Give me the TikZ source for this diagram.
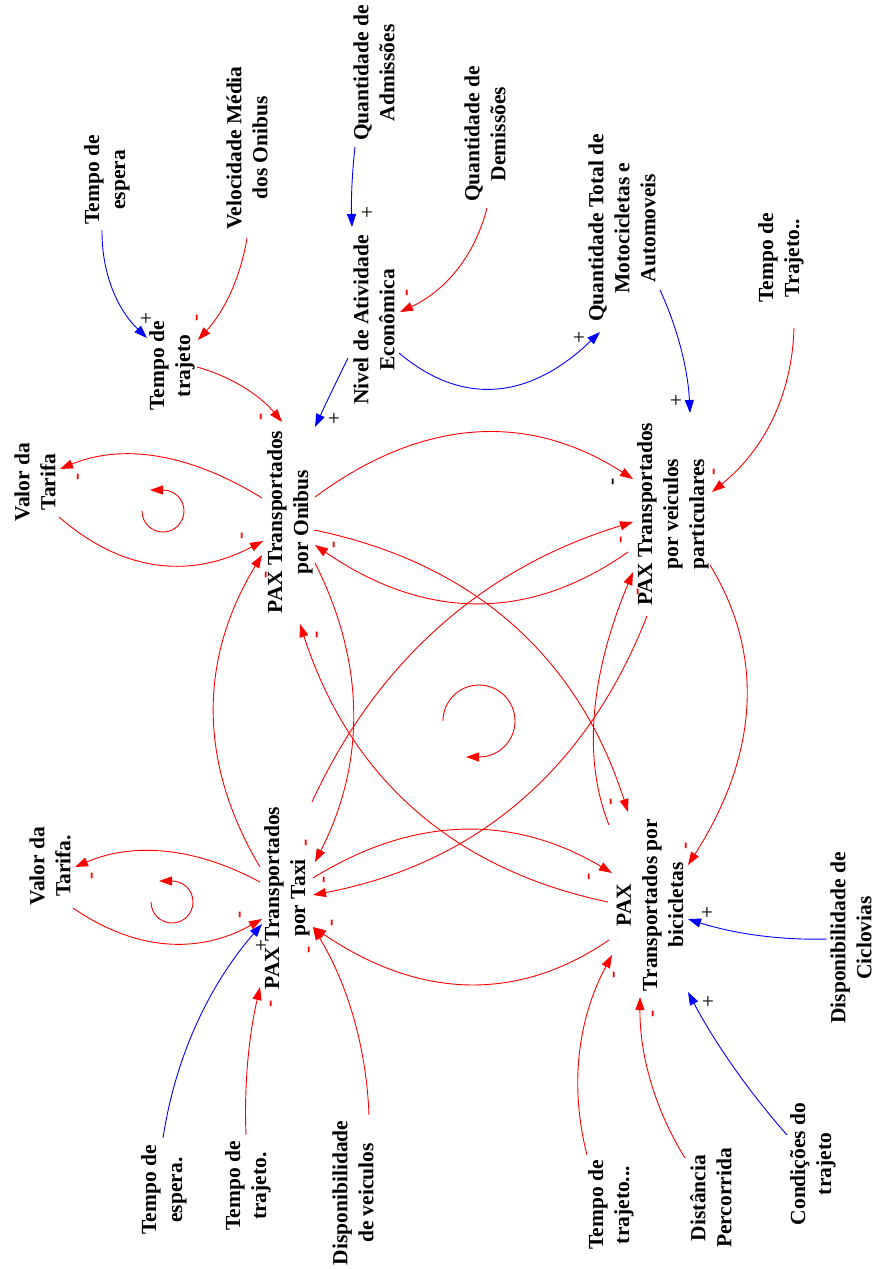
\documentclass[tikz,border=0pt]{standalone}
\usepackage{fontspec}
\setmainfont{Liberation Serif}
\usetikzlibrary{arrows.meta,calc}
\newcommand\cld[6]{\draw[#1] ($(#2)+(#3)$) .. controls ($1.3333*(#4)-0.3333*(#5)-0.3333*(#6)$) and ($1.3333*(#4)-0.3333*(#2)-0.3333*(#3)$) .. ($(#5)+(#6)$);}
\tikzset{
  var/.style={rotate=90, align=center, inner sep=1pt, font=\bfseries\fontsize{21.5}{26}\selectfont},
  neg/.style={draw=red, line width=0.9pt, -{Triangle[length=13pt,width=9pt]}},
  posl/.style={draw=blue, line width=0.9pt, -{Triangle[length=13pt,width=9pt]}},
  msign/.style={rotate=90, text=red, inner sep=0pt, font=\bfseries\fontsize{21.5}{26}\selectfont},
  ksign/.style={rotate=90, text=black, inner sep=0pt, font=\bfseries\fontsize{21.5}{26}\selectfont},
  psign/.style={rotate=90, text=black, inner sep=0pt, font=\fontsize{21.5}{26}\selectfont},
  loopmark/.style={draw=red, line width=0.9pt, -{Triangle[length=13pt,width=9pt]}}
}
\begin{document}
\begin{tikzpicture}[x=1pt,y=-1pt]
\useasboundingbox (0,0) rectangle (877,1269);
% variables
\node[var] (te)  at (107,180)  {Tempo de\\espera};
\node[var] (vm)  at (247,148)  {Velocidade Média\\dos Onibus};
\node[var] (qa)  at (374,73)   {Quantidade de\\Admissões};
\node[var] (tt)  at (172,366)  {Tempo de\\trajeto};
\node[var] (na)  at (374,320)  {Nivel de Atividade\\Econômica};
\node[var] (qd)  at (485,134)  {Quantidade de\\Demissões};
\node[var] (qt)  at (622,228)  {Quantidade Total de\\Motocicletas e\\Automoveis};
\node[var] (tj)  at (781,258)  {Tempo de\\Trajeto..};
\node[var] (vt1) at (35,482)   {Valor da\\Tarifa};
\node[var] (on)  at (290,522)  {PAX Transportados\\por Onibus};
\node[var] (vp)  at (673,514)  {PAX Transportados\\por veiculos\\particulares};
\node[var] (vt2) at (50,866)   {Valor da\\Tarifa.};
\node[var] (tx)  at (287,898)  {PAX Transportados\\por Taxi};
\node[var] (bi)  at (650,905)  {PAX\\Transportados por\\bicicletas};
\node[var] (dc)  at (851,938)  {Disponibilidade de\\Ciclovias};
\node[var] (te2) at (164,1190) {Tempo de\\espera.};
\node[var] (tt2) at (248,1186) {Tempo de\\trajeto.};
\node[var] (dv)  at (353,1193) {Disponibilidade\\de veiculos};
\node[var] (tt3) at (611,1205) {Tempo de\\trajeto...};
\node[var] (dp)  at (711,1198) {Distância\\Percorrida};
\node[var] (ct)  at (813,1164) {Condições do\\trajeto};
% outer links
\cld{posl}{te}{-5,50}{113,289}{tt}{-25,-28}
\cld{neg}{vm}{0,90}{230,293}{tt}{26,-26}
\cld{posl}{qa}{-19,74}{352,187}{na}{-22,-93}
\cld{neg}{qd}{2,74}{456,270}{na}{26,-8}
\cld{neg}{tt}{25,1}{244,388}{on}{-8,-100}
\cld{posl}{na}{-26,38}{331,393}{on}{25,-95}
\cld{posl}{na}{25,33}{497,388}{qt}{-22,104}
\cld{posl}{qt}{38,62}{681,350}{vp}{17,-101}
\cld{neg}{tj}{13,70}{772,419}{vp}{39,-22}
\cld{neg}{on}{-28,-24}{157,457}{vt1}{25,-13}
\cld{neg}{vt1}{24,35}{157,564}{on}{-27,19}
\cld{neg}{tx}{-27,-16}{165,852}{vt2}{25,1}
\cld{neg}{vt2}{23,42}{167,943}{tx}{-25,21}
\cld{posl}{te2}{-1,-52}{197,1024}{tx}{-25,26}
\cld{neg}{tt2}{-2,-51}{248,1061}{tx}{-27,89}
\cld{neg}{dv}{16,-78}{353,1017}{tx}{26,29}
\cld{neg}{tt3}{-24,-50}{580,1053}{bi}{-38,50}
\cld{neg}{dp}{-26,-40}{651,1081}{bi}{-10,92}
\cld{posl}{ct}{-26,-29}{733,1066}{bi}{38,87}
\cld{posl}{dc}{-24,1}{757,935}{bi}{38,14}
% central links
\cld{neg}{on}{25,-25}{475,433}{vp}{-40,-35}
\cld{neg}{vp}{-45,38}{475,603}{on}{25,23}
\cld{neg}{on}{24,8}{512,625}{bi}{-22,-93}
\cld{neg}{on}{25,41}{353,713}{tx}{28,-36}
\cld{neg}{tx}{-27,-31}{214,711}{on}{-28,33}
\cld{neg}{bi}{-42,-3}{414,808}{on}{10,102}
\cld{neg}{tx}{25,-96}{441,626}{vp}{-40,8}
\cld{neg}{vp}{-26,102}{518,802}{tx}{26,-3}
\cld{neg}{bi}{-41,-80}{595,712}{vp}{-40,58}
\cld{neg}{vp}{37,51}{746,708}{bi}{38,-40}
\cld{neg}{tx}{26,-20}{463,830}{bi}{-38,-32}
\cld{neg}{bi}{-41,35}{466,984}{tx}{26,29}
% loop markers
\draw[loopmark] (142,511) arc[start angle=180,end angle=-90,radius=21] -- ++(-13,0);
\draw[loopmark] (151,902) arc[start angle=180,end angle=-90,radius=21] -- ++(-13,0);
\draw[loopmark] (443,721) arc[start angle=-180,end angle=90,radius=36] -- ++(-13,0);
% polarity signs
\node[psign] (s1) at (147,318) {+};
\node[msign] (s2) at (199,318) {-};
\node[psign] (s3) at (368,212) {+};
\node[msign] (s4) at (409,293) {-};
\node[msign] (s5) at (263,417) {-};
\node[psign] (s6) at (335,418) {+};
\node[psign] (s7) at (580,337) {+};
\node[psign] (s8) at (677,400) {+};
\node[msign] (s9) at (716,472) {-};
\node[msign] (s10) at (80,477) {-};
\node[msign] (s11) at (244,536) {-};
\node[msign] (s12) at (94,876) {-};
\node[msign] (s13) at (242,915) {-};
\node[psign] (s14) at (262,945) {+};
\node[msign] (s15) at (273,1004) {-};
\node[msign] (s16) at (311,950) {-};
\node[msign] (s17) at (616,975) {-};
\node[msign] (s18) at (655,1014) {-};
\node[psign] (s19) at (709,1001) {+};
\node[psign] (s20) at (708,912) {+};
\node[ksign] (s21) at (615,482) {-};
\node[msign] (s22) at (336,545) {-};
\node[msign] (s23) at (613,802) {-};
\node[msign] (s24) at (308,843) {-};
\node[msign] (s25) at (268,575) {-};
\node[msign] (s26) at (319,635) {-};
\node[msign] (s27) at (623,540) {-};
\node[msign] (s28) at (326,880) {-};
\node[msign] (s29) at (640,592) {-};
\node[msign] (s30) at (688,846) {-};
\node[msign] (s31) at (591,877) {-};
\node[msign] (s32) at (334,923) {-};
\end{tikzpicture}
\end{document}
